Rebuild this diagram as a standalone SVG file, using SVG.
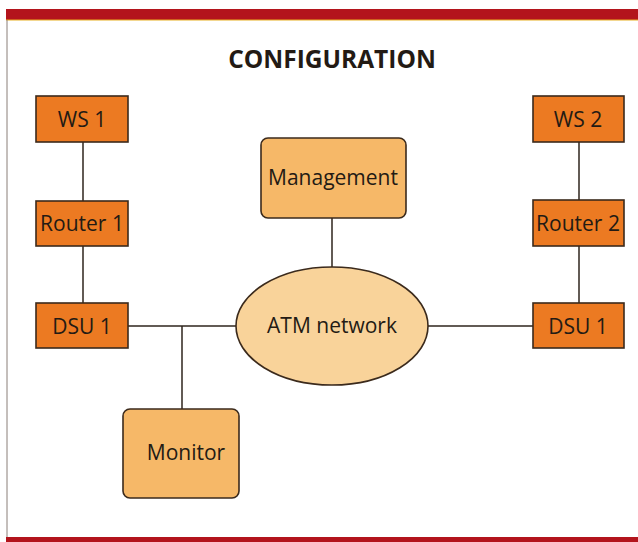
<svg xmlns="http://www.w3.org/2000/svg" width="638" height="542" viewBox="0 0 638 542">
<style>
text{font-family:"Open Sans","Liberation Sans",sans-serif;fill:#231a14;text-anchor:middle}
.lbl{font-size:21px}
.o{fill:#EC7A22;stroke:#3b2a1c;stroke-width:1.6}
.p{fill:#F6B868;stroke:#3b2a1c;stroke-width:1.6}
.e{fill:#F9D39A;stroke:#3b2a1c;stroke-width:1.6}
.c{stroke:#2e241c;stroke-width:1.5;fill:none}
</style>
<rect x="0" y="0" width="638" height="542" fill="#ffffff"/>
<rect x="6" y="9" width="632" height="11" fill="#B3141C"/>
<line x1="6" y1="20" x2="638" y2="20" stroke="#E8B020" stroke-width="1"/>
<line x1="7" y1="20" x2="7" y2="538" stroke="#8a7f78" stroke-width="1"/>
<rect x="6" y="537" width="632" height="5" fill="#B3141C"/>
<text x="332" y="68" style="font-size:24.5px;font-weight:bold">CONFIGURATION</text>
<g id="connectors">
<line class="c" x1="83" y1="142" x2="83" y2="201"/>
<line class="c" x1="83" y1="246" x2="83" y2="303"/>
<line class="c" x1="579" y1="142" x2="579" y2="200"/>
<line class="c" x1="579" y1="246" x2="579" y2="303"/>
<line class="c" x1="128" y1="326" x2="236" y2="326"/>
<line class="c" x1="428" y1="326" x2="533" y2="326"/>
<line class="c" x1="332" y1="218" x2="332" y2="267"/>
<line class="c" x1="182" y1="326" x2="182" y2="409"/>
</g>
<g id="ws1"><rect class="o" x="36" y="96" width="92" height="46"/><text class="lbl" x="82" y="127">WS 1</text></g>
<g id="router1"><rect class="o" x="36" y="201" width="92" height="45"/><text class="lbl" x="82" y="231">Router 1</text></g>
<g id="dsu1left"><rect class="o" x="36" y="303" width="92" height="45"/><text class="lbl" x="82" y="334">DSU 1</text></g>
<g id="ws2"><rect class="o" x="533" y="96" width="91" height="46"/><text class="lbl" x="578" y="127">WS 2</text></g>
<g id="router2"><rect class="o" x="533" y="200" width="91" height="46"/><text class="lbl" x="578" y="231">Router 2</text></g>
<g id="dsu1right"><rect class="o" x="533" y="303" width="91" height="45"/><text class="lbl" x="578" y="334">DSU 1</text></g>
<g id="management"><rect class="p" x="261" y="138" width="145" height="80" rx="7"/><text class="lbl" x="333" y="185">Management</text></g>
<g id="atm"><ellipse class="e" cx="332" cy="326" rx="96" ry="59"/><text class="lbl" x="332" y="333">ATM network</text></g>
<g id="monitor"><rect class="p" x="123" y="409" width="116" height="89" rx="7"/><text class="lbl" x="186" y="460">Monitor</text></g>
</svg>
